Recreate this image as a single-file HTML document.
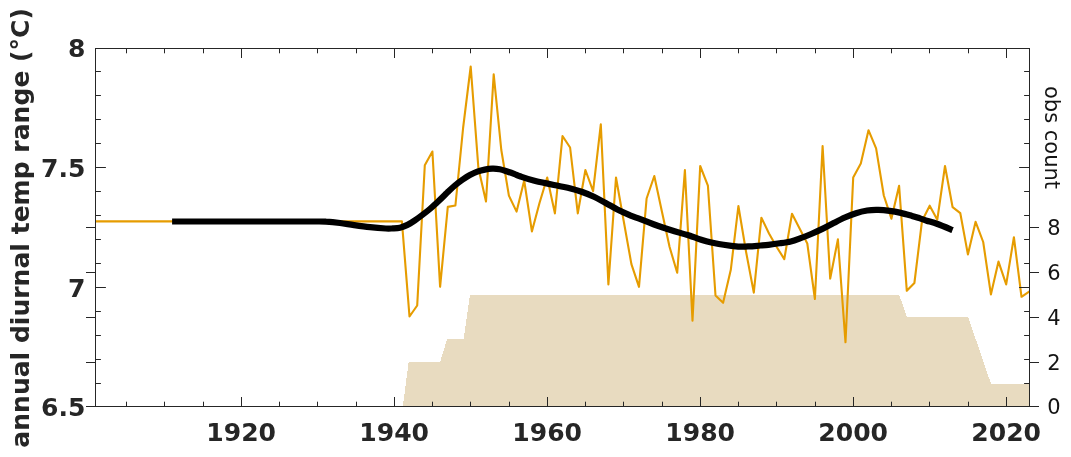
<!DOCTYPE html>
<html lang="en">
<head>
<meta charset="utf-8">
<title>annual diurnal temp range</title>
<style>
html,body{margin:0;padding:0;background:#fff;}
body{width:1071px;height:457px;overflow:hidden;}
svg{display:block;}
text{font-family:"DejaVu Sans","Liberation Sans",sans-serif;}
.b{font-weight:bold;fill:#262626;}
.r{font-weight:normal;fill:#141414;}
</style>
</head>
<body>
<svg width="1071" height="457" viewBox="0 0 1071 457">
<rect width="1071" height="457" fill="#ffffff"/>
<polygon points="402.8,406.5 408.7,361.7 440.2,361.7 447.0,339.4 463.6,339.4 470.0,294.8 899.2,294.8 907.0,317.1 968.2,317.1 991.1,384.1 1029.5,384.1 1029.5,406.5" fill="#e8dbc0" shape-rendering="crispEdges"/>
<path d="M95.5,221.4 L401.9,221.4 L409.5,316.5 L417.2,305.5 L424.8,165.2 L432.4,151.5 L440.1,286.8 L447.8,206.9 L455.4,205.5 L463.1,128.0 L470.7,66.5 L478.4,168.0 L486.0,201.5 L493.7,74.3 L501.3,150.0 L508.9,195.6 L516.6,211.6 L524.2,180.5 L531.9,231.4 L539.5,203.0 L547.2,177.5 L554.9,213.4 L562.5,136.0 L570.1,147.5 L577.8,213.4 L585.4,170.0 L593.1,191.2 L600.8,124.4 L608.4,284.5 L616.0,177.5 L623.7,221.0 L631.4,264.1 L639.0,286.8 L646.6,198.5 L654.3,176.0 L661.9,211.5 L669.6,247.0 L677.2,272.8 L684.9,170.0 L692.5,320.7 L700.2,166.0 L707.9,185.6 L715.5,295.5 L723.1,302.8 L730.8,269.8 L738.4,206.0 L746.1,252.0 L753.8,292.6 L761.4,217.7 L769.0,233.5 L776.7,247.0 L784.3,259.1 L792.0,213.7 L799.6,228.5 L807.3,243.5 L814.9,299.0 L822.6,146.0 L830.2,278.6 L837.9,239.4 L845.5,342.3 L853.2,177.6 L860.8,163.5 L868.5,130.2 L876.1,148.3 L883.8,195.5 L891.4,218.7 L899.1,185.8 L906.8,290.8 L914.4,283.0 L922.0,221.0 L929.7,205.7 L937.3,219.7 L945.0,166.0 L952.6,207.2 L960.3,213.2 L967.9,254.4 L975.6,221.8 L983.2,242.0 L990.9,294.4 L998.5,261.6 L1006.2,284.4 L1013.9,237.2 L1021.5,296.8 L1029.5,291.4" fill="none" stroke="#e69c00" stroke-width="2.1" stroke-linejoin="round"/>
<path d="M172.1,221.5 C191.8,221.5 267.9,221.5 290.0,221.5 C312.1,221.5 300.7,221.5 305.0,221.5 C309.3,221.5 312.5,221.5 316.0,221.5 C319.5,221.5 322.0,221.4 326.0,221.7 C330.0,221.9 335.3,222.4 340.0,223.0 C344.7,223.6 349.0,224.4 354.0,225.1 C359.0,225.8 364.7,226.6 370.0,227.2 C375.3,227.8 382.0,228.3 385.8,228.5 C389.6,228.7 390.6,228.5 393.0,228.4 C395.4,228.3 397.6,228.3 400.0,227.7 C402.4,227.1 405.0,226.1 407.5,224.9 C410.0,223.7 412.4,222.1 414.9,220.4 C417.4,218.7 419.9,216.8 422.4,214.9 C424.9,213.0 427.4,211.1 429.9,209.0 C432.4,206.9 434.8,204.5 437.3,202.2 C439.8,199.9 443.1,196.7 444.8,195.0 C446.5,193.3 445.8,193.9 447.5,192.3 C449.2,190.7 452.4,187.6 454.9,185.5 C457.4,183.4 459.9,181.4 462.4,179.7 C464.9,178.0 467.4,176.4 469.9,175.1 C472.4,173.8 474.8,172.6 477.3,171.7 C479.8,170.8 482.3,170.1 484.8,169.6 C487.3,169.1 489.8,168.8 492.3,168.7 C494.8,168.6 497.2,168.8 499.7,169.3 C502.2,169.8 504.7,170.7 507.2,171.5 C509.7,172.3 512.6,173.3 514.7,174.1 C516.8,174.9 516.5,175.1 520.0,176.3 C523.5,177.5 528.9,179.5 535.4,181.1 C541.9,182.7 553.0,184.8 558.9,186.0 C564.8,187.2 566.7,187.4 570.6,188.4 C574.5,189.4 578.4,190.6 582.3,192.0 C586.2,193.4 590.1,194.9 594.0,196.7 C597.9,198.5 601.8,200.9 605.7,203.0 C609.6,205.1 613.5,207.5 617.4,209.5 C621.3,211.5 624.5,212.9 629.1,214.8 C633.7,216.7 640.1,218.9 645.0,220.8 C649.9,222.7 652.3,223.9 658.4,226.0 C664.5,228.1 676.5,231.8 681.8,233.4 C687.1,235.0 686.8,234.6 690.0,235.7 C693.2,236.8 697.5,238.6 701.2,239.8 C704.9,241.0 708.7,241.9 712.4,242.7 C716.1,243.5 719.3,244.2 723.6,244.8 C727.9,245.5 734.1,246.3 738.2,246.6 C742.3,246.9 744.8,246.5 748.0,246.4 C751.2,246.3 753.8,246.1 757.2,245.8 C760.6,245.5 764.7,245.2 768.4,244.8 C772.1,244.4 775.9,243.9 779.6,243.3 C783.3,242.8 787.4,242.3 790.8,241.5 C794.2,240.7 796.6,239.7 800.0,238.4 C803.4,237.2 807.5,235.6 811.2,234.0 C814.9,232.4 818.7,230.7 822.4,228.9 C826.1,227.1 829.9,225.0 833.6,223.1 C837.3,221.2 841.1,219.2 844.8,217.5 C848.5,215.8 852.3,214.4 856.0,213.2 C859.7,212.0 863.5,211.1 867.2,210.5 C870.9,209.9 874.7,209.8 878.4,209.9 C882.1,210.0 885.9,210.4 889.6,210.9 C893.3,211.4 897.1,212.1 900.8,212.9 C904.5,213.7 908.8,215.0 912.0,215.9 C915.2,216.8 917.5,217.6 920.0,218.4 C922.5,219.2 923.8,219.8 926.7,220.7 C929.6,221.6 933.2,222.4 937.5,224.0 C941.8,225.6 950.1,229.0 952.6,230.0" fill="none" stroke="#000" stroke-width="6.2" stroke-linejoin="round"/>
<path d="M126.50,406.5 v-4.8 M126.50,48.5 v4.8 M164.50,406.5 v-4.8 M164.50,48.5 v4.8 M203.50,406.5 v-4.8 M203.50,48.5 v4.8 M241.50,406.5 v-9.5 M241.50,48.5 v9.5 M279.50,406.5 v-4.8 M279.50,48.5 v4.8 M317.50,406.5 v-4.8 M317.50,48.5 v4.8 M356.50,406.5 v-4.8 M356.50,48.5 v4.8 M394.50,406.5 v-9.5 M394.50,48.5 v9.5 M432.50,406.5 v-4.8 M432.50,48.5 v4.8 M470.50,406.5 v-4.8 M470.50,48.5 v4.8 M509.50,406.5 v-4.8 M509.50,48.5 v4.8 M547.50,406.5 v-9.5 M547.50,48.5 v9.5 M585.50,406.5 v-4.8 M585.50,48.5 v4.8 M623.50,406.5 v-4.8 M623.50,48.5 v4.8 M662.50,406.5 v-4.8 M662.50,48.5 v4.8 M700.50,406.5 v-9.5 M700.50,48.5 v9.5 M738.50,406.5 v-4.8 M738.50,48.5 v4.8 M776.50,406.5 v-4.8 M776.50,48.5 v4.8 M815.50,406.5 v-4.8 M815.50,48.5 v4.8 M853.50,406.5 v-9.5 M853.50,48.5 v9.5 M891.50,406.5 v-4.8 M891.50,48.5 v4.8 M929.50,406.5 v-4.8 M929.50,48.5 v4.8 M968.50,406.5 v-4.8 M968.50,48.5 v4.8 M1006.50,406.5 v-9.5 M1006.50,48.5 v9.5 M95.5,383.50 h5.4 M1029.5,383.50 h-5.4 M95.5,359.50 h5.4 M1029.5,359.50 h-5.4 M95.5,335.50 h5.4 M1029.5,335.50 h-5.4 M95.5,311.50 h5.4 M1029.5,311.50 h-5.4 M95.5,287.50 h10.4 M1029.5,287.50 h-10.4 M95.5,263.50 h5.4 M1029.5,263.50 h-5.4 M95.5,239.50 h5.4 M1029.5,239.50 h-5.4 M95.5,215.50 h5.4 M1029.5,215.50 h-5.4 M95.5,191.50 h5.4 M1029.5,191.50 h-5.4 M95.5,167.50 h10.4 M1029.5,167.50 h-10.4 M95.5,143.50 h5.4 M1029.5,143.50 h-5.4 M95.5,119.50 h5.4 M1029.5,119.50 h-5.4 M95.5,95.50 h5.4 M1029.5,95.50 h-5.4 M95.5,71.50 h5.4 M1029.5,71.50 h-5.4 M95.5,406.50 h-9.5 M1029.5,406.50 h9.5 M95.5,362.50 h-9.5 M1029.5,362.50 h9.5 M95.5,317.50 h-9.5 M1029.5,317.50 h9.5 M95.5,272.50 h-9.5 M1029.5,272.50 h9.5 M95.5,227.50 h-9.5 M1029.5,227.50 h9.5" fill="none" stroke="#262626" stroke-width="1"/>
<rect x="95.5" y="48.5" width="934.0" height="358.0" fill="none" stroke="#262626" stroke-width="1"/>
<text x="241.2" y="441" text-anchor="middle" class="b" font-size="25.05">1920</text>
<text x="394.2" y="441" text-anchor="middle" class="b" font-size="25.05">1940</text>
<text x="547.2" y="441" text-anchor="middle" class="b" font-size="25.05">1960</text>
<text x="700.2" y="441" text-anchor="middle" class="b" font-size="25.05">1980</text>
<text x="853.2" y="441" text-anchor="middle" class="b" font-size="25.05">2000</text>
<text x="1006.2" y="441" text-anchor="middle" class="b" font-size="25.05">2020</text>
<text x="85.4" y="415.8" text-anchor="end" class="b" font-size="25.05">6.5</text>
<text x="85.4" y="296.8" text-anchor="end" class="b" font-size="25.05">7</text>
<text x="85.4" y="176.8" text-anchor="end" class="b" font-size="25.05">7.5</text>
<text x="85.4" y="56.9" text-anchor="end" class="b" font-size="25.05">8</text>
<text x="1047.3" y="414.0" class="r" font-size="21">0</text>
<text x="1047.3" y="370.0" class="r" font-size="21">2</text>
<text x="1047.3" y="325.0" class="r" font-size="21">4</text>
<text x="1047.3" y="280.0" class="r" font-size="21">6</text>
<text x="1047.3" y="235.0" class="r" font-size="21">8</text>
<text transform="translate(28.9,227.9) rotate(-90)" text-anchor="middle" class="b" font-size="25.05">annual diurnal temp range (°C)</text>
<text transform="translate(1044.5,137.5) rotate(90)" text-anchor="middle" class="r" font-size="21">obs count</text>
</svg>
</body>
</html>
